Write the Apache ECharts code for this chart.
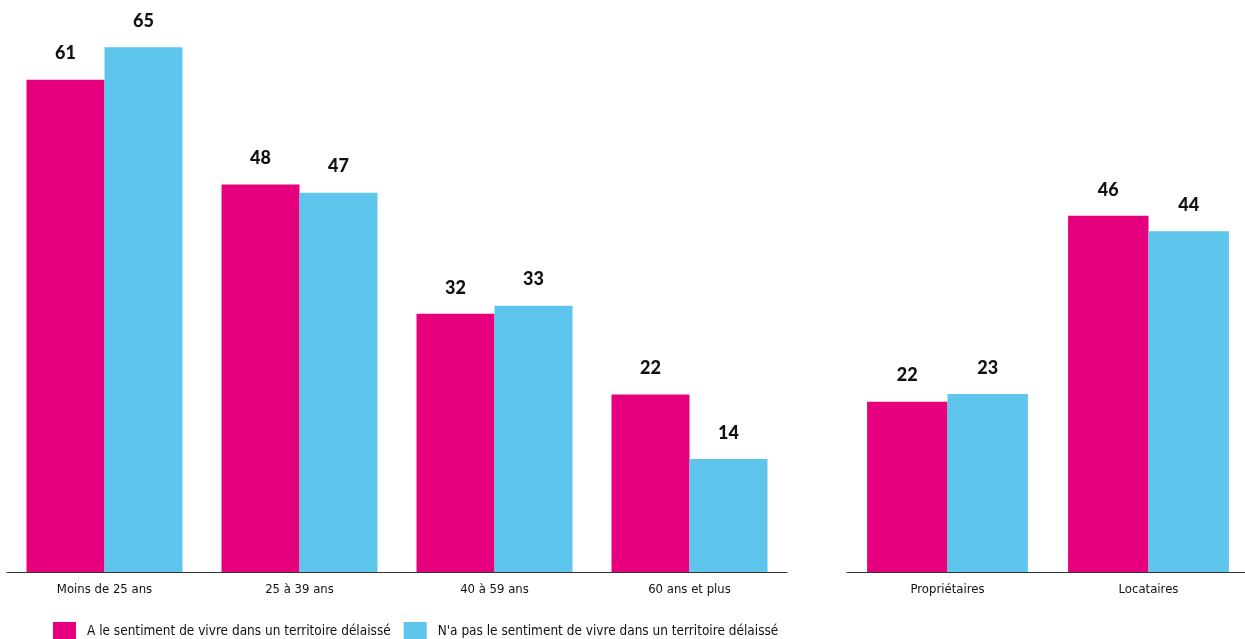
<!DOCTYPE html>
<html>
<head>
<meta charset="utf-8">
<script src="https://cdn.jsdelivr.net/npm/echarts@6/dist/echarts.min.js"></script>
<style>
  html, body { margin: 0; padding: 0; background: #fff; overflow: hidden; }
  #chart { width: 1250px; height: 639px; }
</style>
</head>
<body>
<div id="chart"></div>
<script>
const ageCategories = ['Moins de 25 ans', '25 à 39 ans', '40 à 59 ans', '60 ans et plus'];
const statusCategories = ['Propriétaires', 'Locataires'];
const seriesNames = [
  'A le sentiment de vivre dans un territoire délaissé',
  "N'a pas le sentiment de vivre dans un territoire délaissé"
];
const ageDelaisse = [61, 48, 32, 22];
const ageNonDelaisse = [65, 47, 33, 14];
const statusDelaisse = [22, 46];
const statusNonDelaisse = [23, 44];

const pink = '#e6007e';
const blue = '#5ec5ec';
const narrow = "'Liberation Sans Narrow', 'DejaVu Sans Condensed', 'DejaVu Sans', sans-serif";

const myChart = echarts.init(document.getElementById('chart'));

const labelStyle = {
  show: true,
  position: 'top',
  distance: 17,
  color: '#111',
  fontFamily: 'Lato',
  fontWeight: 900,
  fontSize: 18
};

const xAxisBase = {
  type: 'category',
  axisTick: {show: false},
  axisLine: {lineStyle: {color: '#333', width: 1}},
  axisLabel: {
    color: '#111',
    fontFamily: narrow,
    fontSize: 13,
    margin: 11
  }
};

const yAxisBase = {
  type: 'value',
  min: 0,
  max: 70,
  show: false,
  splitLine: {show: false}
};

function bar(name, data, color, idx) {
  return {
    name: name,
    type: 'bar',
    xAxisIndex: idx,
    yAxisIndex: idx,
    data: data,
    barGap: '0%',
    barCategoryGap: '20%',
    itemStyle: {color: color},
    label: labelStyle
  };
}

myChart.setOption({
  animation: false,
  grid: [
    {left: 7, width: 780, top: 7, height: 565},
    {left: 847, width: 402, top: 30, height: 542}
  ],
  legend: {
    left: 48,
    top: 617,
    itemWidth: 23,
    itemHeight: 19,
    itemGap: 13,
    icon: 'rect',
    textStyle: {
      color: '#111',
      fontFamily: narrow,
      fontSize: 13.5,
      padding: [0, 0, 0, 6]
    },
    data: seriesNames
  },
  xAxis: [
    Object.assign({}, xAxisBase, {gridIndex: 0, data: ageCategories}),
    Object.assign({}, xAxisBase, {gridIndex: 1, data: statusCategories})
  ],
  yAxis: [
    Object.assign({}, yAxisBase, {gridIndex: 0}),
    Object.assign({}, yAxisBase, {gridIndex: 1})
  ],
  series: [
    bar(seriesNames[0], ageDelaisse, pink, 0),
    bar(seriesNames[1], ageNonDelaisse, blue, 0),
    bar(seriesNames[0], statusDelaisse, pink, 1),
    bar(seriesNames[1], statusNonDelaisse, blue, 1)
  ]
});
</script>
</body>
</html>
